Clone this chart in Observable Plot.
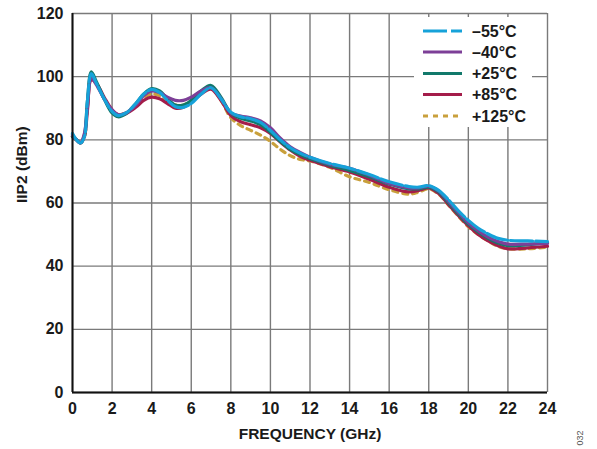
<!DOCTYPE html>
<html>
<head>
<meta charset="utf-8">
<script src="https://cdn.jsdelivr.net/npm/d3@7"></script>
<script src="https://cdn.jsdelivr.net/npm/@observablehq/plot@0.6"></script>
<style>
  html, body { margin: 0; padding: 0; background: #fff; }
  #chart { width: 597px; height: 449px; }
</style>
</head>
<body>
<div id="chart"></div>
<script>
const freq = [0, 0.2, 0.4, 0.6, 0.75, 0.95, 1.2, 1.6, 2.0, 2.3, 2.7, 3.2, 3.6, 4.0, 4.4, 4.8, 5.2, 5.6, 6.0, 6.5, 7.0, 7.5, 8.0, 8.5, 9.0, 9.5, 10, 10.5, 11, 11.5, 12, 13, 14, 15, 16, 17, 17.5, 18, 18.5, 19, 19.5, 20, 20.5, 21, 21.5, 22, 23, 24];

const m55 = [82, 80, 79, 81, 92, 101, 98, 93, 89, 87.7, 88.5, 91.5, 94.5, 96, 95, 92.5, 90.5, 90.3, 91.5, 94.5, 96.5, 93, 88.7, 87.3, 86.7, 85.5, 83, 80, 77.5, 75.8, 74.5, 72.5, 71, 69, 66.7, 65.2, 65, 65.5, 64, 61, 57.5, 54.5, 52, 50.2, 48.8, 48.2, 48, 47.8];
const m40 = [81.5, 80, 79, 82, 90, 99.5, 97.5, 93, 89.5, 88, 88.5, 91, 94, 95.5, 95, 93.5, 92.5, 92.5, 93.5, 95.5, 96.5, 93, 88.5, 87.5, 87, 86, 83.8, 80.5, 77.8, 76, 74.5, 72.3, 71, 68.8, 66.2, 64.8, 64.8, 65.3, 63.8, 60.5, 57, 53.8, 51.2, 49.2, 47.8, 47, 47, 47.2];
const p25 = [81, 80, 79, 81.5, 92, 101.5, 98.5, 93, 88.5, 87.3, 88.3, 91.5, 94.5, 96.2, 95.5, 93, 91, 91, 92.5, 95.5, 97.2, 93.5, 88.5, 86.8, 86, 84.8, 82.4, 79.5, 77, 75.3, 74, 72, 70.3, 68.3, 66, 64.5, 64.5, 65, 63.5, 60, 56.5, 53.3, 50.8, 48.8, 47.3, 46.5, 46.8, 47.5];
const p85 = [81, 80, 79, 81, 89, 99, 98, 93.5, 89.5, 88, 88.3, 90.3, 92.5, 93.5, 93, 91.5, 90, 90.3, 92, 94.5, 96, 92.5, 87.7, 85.7, 84.8, 83.8, 82, 79.3, 76.8, 74.8, 73.5, 71.5, 69.8, 67.5, 65, 63.5, 64, 64.8, 63, 59.5, 56, 52.8, 50, 48, 46.5, 45.5, 45.8, 46.3];
const p125 = [81, 80, 79, 81, 90, 100, 98, 93, 89, 88, 88.5, 90.8, 93.5, 94.5, 94, 92, 91, 91, 92.5, 95, 96.3, 92.5, 87, 84.5, 83, 81.5, 79.5, 77, 75, 73.8, 73.3, 71.3, 68.3, 66.5, 64.2, 62.8, 63.5, 64.5, 62.8, 59.3, 55.8, 52.5, 50, 48, 46.3, 45.5, 45.5, 46];

const seriesNames = ["–55°C", "–40°C", "+25°C", "+85°C", "+125°C"];
const seriesColors = ["#16a2d9", "#7d3f97", "#12796b", "#a41d4a", "#c9a03c"];
const seriesDash = ["22,3", null, null, null, "5,5"];
const xTicks = [0, 2, 4, 6, 8, 10, 12, 14, 16, 18, 20, 22, 24];
const yTicks = [0, 20, 40, 60, 80, 100, 120];

const allValues = [m55, m40, p25, p85, p125];
const rows = (i) => freq.map((f, j) => ({f, v: allValues[i][j]}));

// draw order: +125 first, -55 last (on top)
const drawOrder = [4, 3, 2, 1, 0];
const lineMarks = drawOrder.map(i => Plot.line(rows(i), {
  x: "f", y: "v", stroke: seriesColors[i], strokeWidth: 3.2,
  strokeDasharray: seriesDash[i] || undefined, curve: "catmull-rom"
}));

const chart = Plot.plot({
  width: 597, height: 449,
  marginLeft: 72, marginRight: 50, marginTop: 13, marginBottom: 57,
  style: {fontFamily: "'Liberation Sans', Arial, sans-serif", background: "#fff"},
  x: {domain: [0, 24]},
  y: {domain: [0, 120]},
  marks: [
    Plot.gridX(xTicks, {stroke: "#7a7a7a", strokeOpacity: 1, strokeWidth: 1.4}),
    Plot.gridY(yTicks, {stroke: "#7a7a7a", strokeOpacity: 1, strokeWidth: 1.4}),
    Plot.axisX(xTicks, {tickSize: 0, tickPadding: 10, fontSize: 16, fontWeight: "bold", fill: "#1a1a1a", label: null}),
    Plot.axisY(yTicks, {tickSize: 0, tickPadding: 9, fontSize: 16, fontWeight: "bold", fill: "#1a1a1a", label: null}),
    ...lineMarks,
    Plot.ruleX([0], {stroke: "#111", strokeWidth: 2}),
    Plot.ruleY([0], {stroke: "#111", strokeWidth: 2}),
    Plot.text(["FREQUENCY (GHz)"], {frameAnchor: "bottom", dy: 46, fontSize: 15.5, fontWeight: "bold", fill: "#1a1a1a"}),
    Plot.text(["IIP2 (dBm)"], {frameAnchor: "left", dx: -50, rotate: -90, fontSize: 15.5, fontWeight: "bold", fill: "#1a1a1a"}),
    Plot.text(["032"], {frameAnchor: "bottom-right", dx: 35, dy: 38, rotate: -90, fontSize: 9, fill: "#555"})
  ]
});

// Legend (white box over grid, top-right)
const svg = d3.select(chart);
const lg = svg.append("g").attr("class", "legend").attr("text-anchor", "start");
lg.append("rect").attr("x", 414).attr("y", 17).attr("width", 118).attr("height", 110).attr("fill", "#fff");
const rowY = [31, 52, 73.5, 94.5, 116];
seriesNames.forEach((name, i) => {
  const line = lg.append("line")
    .attr("x1", 423).attr("x2", 462)
    .attr("y1", rowY[i]).attr("y2", rowY[i])
    .attr("stroke", seriesColors[i]).attr("stroke-width", 3.2);
  if (seriesDash[i]) line.attr("stroke-dasharray", i === 0 ? "24,4" : "5,5");
  lg.append("text").attr("x", 472).attr("y", rowY[i]).attr("dy", "0.36em")
    .attr("text-anchor", "start")
    .attr("font-size", 16).attr("font-weight", "bold").attr("fill", "#1a1a1a")
    .attr("font-family", "'Liberation Sans', Arial, sans-serif")
    .text(name);
});

document.getElementById("chart").appendChild(chart);
</script>
</body>
</html>
